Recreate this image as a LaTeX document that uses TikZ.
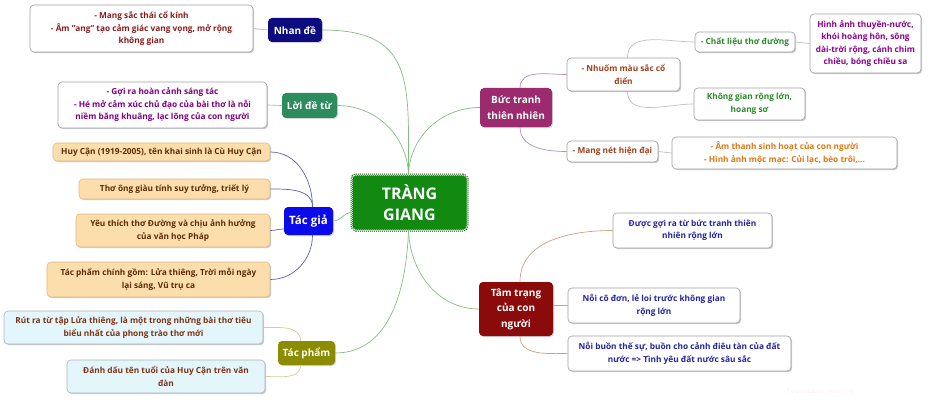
\documentclass[tikz,border=0pt]{standalone}
\usepackage{fontspec}
\setmainfont{Open Sans}
\usepackage{tikz}
\usetikzlibrary{shadows}
\definecolor{rootcol}{RGB}{18,138,18}
\definecolor{nhancol}{RGB}{12,12,128}
\definecolor{loicol}{RGB}{44,140,92}
\definecolor{giacol}{RGB}{10,10,235}
\definecolor{phamcol}{RGB}{140,140,0}
\definecolor{tranhcol}{RGB}{156,42,110}
\definecolor{trangcol}{RGB}{139,10,10}
\definecolor{peach}{RGB}{251,222,172}
\definecolor{icecol}{RGB}{226,246,251}
\definecolor{brownt}{RGB}{92,44,8}
\definecolor{redt}{RGB}{140,28,28}
\definecolor{purpt}{RGB}{128,0,128}
\definecolor{siennat}{RGB}{160,64,26}
\definecolor{greent}{RGB}{42,138,42}
\definecolor{oranget}{RGB}{224,120,16}
\definecolor{navyt}{RGB}{36,36,160}
\definecolor{rootlink}{RGB}{130,190,130}
\definecolor{gialink}{RGB}{92,92,180}
\definecolor{phamlink}{RGB}{214,204,150}
\definecolor{tranhlink}{RGB}{180,140,180}
\definecolor{tranglink}{RGB}{200,160,140}
\tikzset{
  topic/.style={rounded corners=4pt, fill=rootcol, text=white, align=center,
    font=\fontsize{16}{21}\selectfont\bfseries, inner sep=0pt,
    preaction={draw=rootcol!60!black, line width=3pt},
    draw=white, densely dotted, line width=1pt},
  branch/.style={rounded corners=4pt, text=white, align=center, inner sep=0pt,
    font=\fontsize{10}{15.5}\selectfont\bfseries,
    drop shadow={shadow xshift=1pt, shadow yshift=-1pt, opacity=0.35}},
  leaf/.style={rounded corners=4pt, draw=gray!75, line width=0.6pt, fill=white, align=center, inner sep=0pt,
    font=\fontsize{8.3}{12.5}\selectfont\bfseries,
    drop shadow={shadow xshift=1.2pt, shadow yshift=-1.2pt, opacity=0.4}},
  peachbox/.style={leaf, fill=peach, draw=peach!60!brown, text=brownt},
  icebox/.style={leaf, fill=icecol, draw=gray!60, text=siennat!80!black},
  link/.style={line width=0.7pt},
}
\begin{document}
\begin{tikzpicture}[x=1pt, y=1pt]
  \useasboundingbox (0,0) rectangle (930,-404);
  % chủ đề chính
  \node[topic, minimum width=115, minimum height=55] (root) at (409.5,-202.5) {TRÀNG\\GIANG};

  % các nhánh
  \node[branch, fill=nhancol, minimum width=54, minimum height=24] (nhande) at (295,-30) {Nhan đề};
  \node[branch, fill=loicol, minimum width=55, minimum height=25] (loidetu) at (309.5,-105.5) {Lời đề từ};
  \node[branch, fill=giacol, minimum width=49, minimum height=28, font=\fontsize{11.5}{15}\selectfont\bfseries] (tacgia) at (308.5,-221) {Tác giả};
  \node[branch, fill=phamcol, minimum width=57, minimum height=24] (tacpham) at (306.5,-353) {Tác phẩm};
  \node[branch, fill=tranhcol, minimum width=72, minimum height=39] (buctranh) at (516,-107.5) {Bức tranh\\thiên nhiên};
  \node[branch, fill=trangcol, minimum width=74, minimum height=54] (tamtrang) at (516,-309) {Tâm trạng\\của con\\người};

  % Nhan đề, Lời đề từ
  \node[leaf, text=redt, minimum width=223, minimum height=47] (nd1) at (141.5,-28.5)
    {- Mang sắc thái cổ kính\\- Âm "ang" tạo cảm giác vang vọng, mở rộng\\không gian};
  \node[leaf, text=purpt, minimum width=209, minimum height=46] (ldt1) at (162.5,-105)
    {- Gợi ra hoàn cảnh sáng tác\\- Hé mở cảm xúc chủ đạo của bài thơ là nỗi\\niềm băng khuâng, lạc lõng của con người};

  % Tác giả
  \node[peachbox, minimum width=217, minimum height=18] (tg1) at (161.5,-152) {Huy Cận (1919-2005), tên khai sinh là Cù Huy Cận};
  \node[peachbox, minimum width=191, minimum height=20] (tg2) at (174.5,-189) {Thơ ông giàu tính suy tưởng, triết lý};
  \node[peachbox, minimum width=194, minimum height=33] (tg3) at (173,-230.5) {Yêu thích thơ Đường và chịu ảnh hưởng\\của văn học Pháp};
  \node[peachbox, minimum width=223, minimum height=35] (tg4) at (158.5,-279.5) {Tác phẩm chính gồm: Lửa thiêng, Trời mỗi ngày\\lại sáng, Vũ trụ ca};

  % Tác phẩm
  \node[icebox, minimum width=259, minimum height=33] (tp1) at (133.5,-327.5) {Rút ra từ tập Lửa thiêng, là một trong những bài thơ tiêu\\biểu nhất của phong trào thơ mới};
  \node[icebox, minimum width=198, minimum height=33] (tp2) at (166,-376.5) {Đánh dấu tên tuổi của Huy Cận trên văn\\đàn};

  % Bức tranh thiên nhiên
  \node[leaf, text=siennat, minimum width=113, minimum height=33] (bt1) at (623.5,-74.5) {- Nhuốm màu sắc cổ\\điển};
  \node[leaf, text=greent, minimum width=100, minimum height=20] (bt11) at (745,-42) {- Chất liệu thơ đường};
  \node[leaf, text=purpt!90!magenta, minimum width=111, minimum height=59] (bt111) at (865.5,-43.5)
    {Hình ảnh thuyền-nước,\\khói hoàng hôn, sông\\dài-trời rộng, cánh chim\\chiều, bóng chiều sa};
  \node[leaf, text=greent, minimum width=111, minimum height=32] (bt12) at (749.5,-104) {Không gian rộng lớn,\\hoang sơ};
  \node[leaf, text=siennat, minimum width=91, minimum height=21] (bt2) at (612.5,-151.5) {- Mang nét hiện đại};
  \node[leaf, text=oranget, minimum width=225, minimum height=32] (bt21) at (784.5,-153)
    {- Âm thanh sinh hoạt của con người\\- Hình ảnh mộc mạc: Củi lạc, bèo trôi,...};

  % Tâm trạng của con người
  \node[leaf, text=navyt, minimum width=159, minimum height=35] (tt1) at (692.5,-230.5) {Được gợi ra từ bức tranh thiên\\nhiên rộng lớn};
  \node[leaf, text=navyt, minimum width=172, minimum height=35] (tt2) at (654,-305.5) {Nỗi cô đơn, lẻ loi trước không gian\\rộng lớn};
  \node[leaf, text=navyt, minimum width=223, minimum height=35] (tt3) at (679.5,-353.5) {Nỗi buồn thế sự, buồn cho cảnh điêu tàn của đất\\nước => Tình yêu đất nước sâu sắc};

  \node[text=red!5, font=\fontsize{8}{8}\selectfont\ttfamily] (mark) at (820,-391) {Yeuvanhoc.edu.vn};

  % đường nối
  \draw[link, rootlink] ([xshift=-1]root.north) to[out=90, in=0, looseness=1.4] (nhande.east);
  \draw[link, rootlink] ([xshift=-1]root.north) to[out=92, in=0] (loidetu.east);
  \draw[link, rootlink] ([xshift=-1]root.north) to[out=88, in=180] (buctranh.west);
  \draw[link, rootlink] ([yshift=-10]root.west) to[out=180, in=0] (tacgia.east);
  \draw[link, rootlink] ([xshift=-1]root.south) to[out=-92, in=0] (tacpham.east);
  \draw[link, rootlink] ([xshift=-1]root.south) to[out=-88, in=180] (tamtrang.west);

  \draw[link, gray!60] (nhande.west) -- (nd1.east);
  \draw[link, gray!60] (loidetu.west) -- (ldt1.east);

  \draw[link, gialink] ([xshift=4]tacgia.north) to[out=90, in=0] (tg1.east);
  \draw[link, gialink] ([xshift=4]tacgia.north) to[out=90, in=0] (tg2.east);
  \draw[link, gialink] ([yshift=-8]tacgia.west) to[out=180, in=0] (tg3.east);
  \draw[link, gialink] ([xshift=4]tacgia.south) to[out=-90, in=0] (tg4.east);

  \draw[link, phamlink] ([xshift=-6]tacpham.north) to[out=90, in=0] (tp1.east);
  \draw[link, phamlink] ([xshift=-6]tacpham.south) to[out=-90, in=0] (tp2.east);

  \draw[link, tranhlink] ([xshift=4]buctranh.north) to[out=90, in=180] (bt1.west);
  \draw[link, tranhlink] ([xshift=4]buctranh.south) to[out=-90, in=180] (bt2.west);
  \draw[link, gray!50] ([xshift=4]bt1.north) to[out=90, in=180] (bt11.west);
  \draw[link, gray!50] ([xshift=4]bt1.south) to[out=-90, in=180] (bt12.west);
  \draw[link, gray!50] (bt11.east) -- (bt111.west);
  \draw[link, gray!50] (bt2.east) -- (bt21.west);

  \draw[link, tranglink] ([xshift=4]tamtrang.north) to[out=90, in=180] (tt1.west);
  \draw[link, tranglink] (tamtrang.east |- tt2.west) -- (tt2.west);
  \draw[link, tranglink] ([xshift=4]tamtrang.south) to[out=-90, in=180] (tt3.west);
\end{tikzpicture}
\end{document}
